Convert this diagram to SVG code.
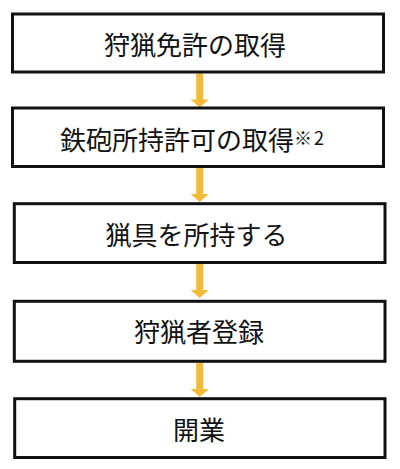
<svg xmlns="http://www.w3.org/2000/svg" width="400" height="469" viewBox="0 0 400 469">
<style>
.box{fill:#fff;stroke:#111;stroke-width:3}
.t{font-family:"Noto Sans CJK JP","Noto Sans CJK SC",sans-serif;font-size:26px;fill:#111;text-anchor:middle}
.arr{fill:#F2BA36}
</style>
<defs>
<path id="arrow" class="arr" d="M-3.5,0 H3.5 V26 H9 L0,34 L-9,26 H-3.5 Z"/>
</defs>
<rect width="400" height="469" fill="#fff"/>
<g id="connectors">
<use href="#arrow" x="199.7" y="73.5"/>
<use href="#arrow" x="199.7" y="168"/>
<use href="#arrow" x="199.7" y="264"/>
<use href="#arrow" x="199.7" y="363"/>
</g>
<g id="node1">
<rect class="box" x="12.5" y="14" width="371" height="58"/>
<text class="t" x="195" y="55">狩猟免許の取得</text>
</g>
<g id="node2">
<rect class="box" x="12.5" y="108" width="371" height="58.5"/>
<text class="t" x="60" y="150" style="text-anchor:start">鉄砲所持許可の取得<tspan font-size="18" dy="-5" letter-spacing="2">※2</tspan></text>
</g>
<g id="node3">
<rect class="box" x="14.3" y="203.7" width="370.7" height="58.8"/>
<text class="t" x="196.5" y="245">猟具を所持する</text>
</g>
<g id="node4">
<rect class="box" x="14.3" y="301.3" width="370.7" height="60"/>
<text class="t" x="199" y="342">狩猟者登録</text>
</g>
<g id="node5">
<rect class="box" x="14.7" y="398.7" width="370.3" height="58.8"/>
<text class="t" x="199" y="440">開業</text>
</g>
</svg>
